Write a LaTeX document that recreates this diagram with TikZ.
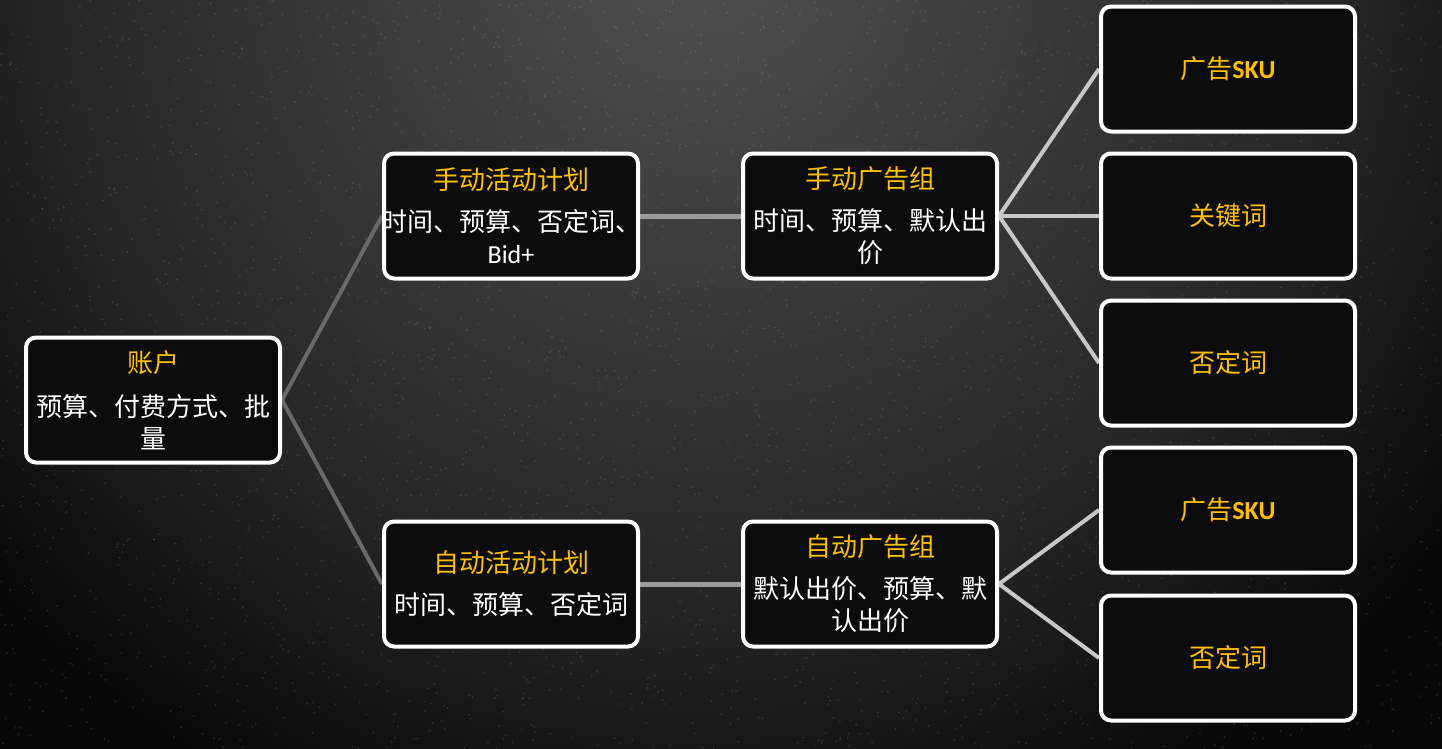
\documentclass[tikz,border=0pt]{standalone}
\usepackage{fontspec}
\setmainfont{Carlito}
\newfontfamily\cjk{Noto Sans CJK SC}
\definecolor{amber}{RGB}{255,192,0}
\definecolor{bgA}{RGB}{80,80,80}
\definecolor{bgB}{RGB}{58,58,58}
\definecolor{bgC}{RGB}{38,38,38}
\definecolor{bgD}{RGB}{8,8,8}
\definecolor{boxfill}{RGB}{12,12,12}
\definecolor{lineA}{RGB}{105,105,105}
\definecolor{lineB}{RGB}{155,155,155}
\definecolor{lineC}{RGB}{200,200,200}
\pgfdeclareradialshading{bgshade}{\pgfpoint{0bp}{0bp}}{color(0bp)=(bgA); color(9bp)=(bgB); color(17bp)=(bgC); color(25bp)=(bgD); color(50bp)=(bgD)}
\pgfdeclarelayer{bglayer}
\pgfdeclarelayer{linelayer}
\pgfsetlayers{bglayer,linelayer,main}
\begin{document}
\begin{tikzpicture}[x=1pt,y=-1pt,
  box/.style={draw=white, line width=4pt, rounded corners=10pt, fill=boxfill,
    minimum width=254pt, minimum height=125pt, inner sep=0pt},
  txt/.style={align=center, inner sep=0pt, font=\cjk\fontsize{26}{32}\selectfont, text=white},
  connA/.style={draw=lineA, line width=4pt},
  connB/.style={draw=lineB, line width=5pt},
  connC/.style={draw=lineC, line width=4pt}]
\useasboundingbox (0,0) rectangle (1442,748);
\begin{pgfonlayer}{bglayer}
\begin{scope}
  \clip (0,0) rectangle (1442,748);
  \fill[bgD] (-10,-10) rectangle (1452,758);
  \shade[shading=bgshade] (-250,-1000) rectangle (1650,900);
  \pgfmathsetseed{7}
  \foreach \i in {1,...,3500}{
    \pgfmathsetmacro\px{rnd*1442}
    \pgfmathsetmacro\py{rnd*748}
    \fill[white,opacity=0.1] (\px,\py) circle (1.1);
  }
\end{scope}
\end{pgfonlayer}

\node[box] (acct) at (153,400) {};
\node[txt] at (acct) {{\color{amber}账户}\\[12pt]预算、付费方式、批\\量};
\node[box] (mplan) at (511,216) {};
\node[txt] at (mplan) {{\color{amber}手动活动计划}\\[10pt]时间、预算、否定词、\\{\rmfamily\fontsize{26}{32}\selectfont Bid+}};
\node[box] (aplan) at (511,584) {};
\node[txt] at (aplan) {{\color{amber}自动活动计划}\\[10pt]时间、预算、否定词};
\node[box] (mgrp) at (870,216) {};
\node[txt] at (mgrp) {{\color{amber}手动广告组}\\[10pt]时间、预算、默认出\\价};
\node[box] (agrp) at (870,584) {};
\node[txt] at (agrp) {{\color{amber}自动广告组}\\[10pt]默认出价、预算、默\\认出价};

\node[box] (r1) at (1228,69) {};
\node[txt,text=amber] at (r1) {广告{\rmfamily\bfseries SKU}};
\node[box] (r2) at (1228,216) {};
\node[txt,text=amber] at (r2) {关键词};
\node[box] (r3) at (1228,363) {};
\node[txt,text=amber] at (r3) {否定词};
\node[box] (r4) at (1228,510) {};
\node[txt,text=amber] at (r4) {广告{\rmfamily\bfseries SKU}};
\node[box] (r5) at (1228,658) {};
\node[txt,text=amber] at (r5) {否定词};

\begin{pgfonlayer}{linelayer}
\draw[connA] (acct.east) -- (mplan.west);
\draw[connA] (acct.east) -- (aplan.west);
\draw[connB] (mplan.east) -- (mgrp.west);
\draw[connB] (aplan.east) -- (agrp.west);
\draw[connC] (mgrp.east) -- (r1.west);
\draw[connC] (mgrp.east) -- (r2.west);
\draw[connC] (mgrp.east) -- (r3.west);
\draw[connC] (agrp.east) -- (r4.west);
\draw[connC] (agrp.east) -- (r5.west);
\end{pgfonlayer}
\end{tikzpicture}
\end{document}
